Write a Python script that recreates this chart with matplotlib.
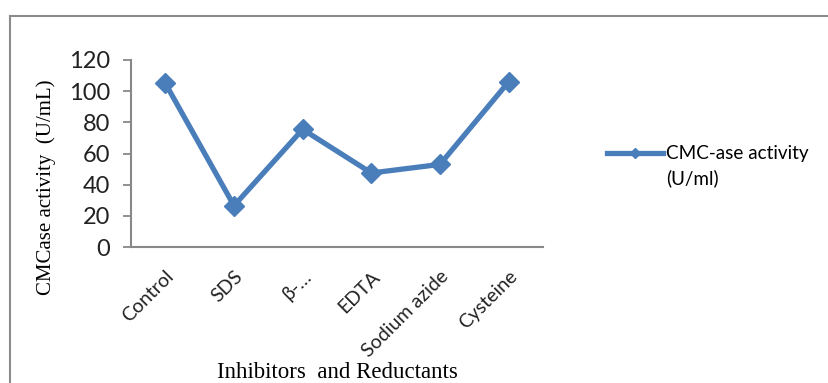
import matplotlib.pyplot as plt
from matplotlib.lines import Line2D
from matplotlib.legend_handler import HandlerLine2D
from matplotlib.transforms import Affine2D

categories = ["Control", "SDS", "β-…", "EDTA", "Sodium azide", "Cysteine"]
activity = [105, 26.5, 75.5, 47.5, 53, 106]
y_ticks = [0, 20, 40, 60, 80, 100, 120]

blue = "#4a7ebb"
sans = ["Lato", "DejaVu Sans"]
serif = ["Liberation Serif", "DejaVu Serif"]


class FirstLineHandler(HandlerLine2D):
    # keep the legend line level with the first line of a two-line label
    def __init__(self, dy, **kw):
        super().__init__(**kw)
        self.dy = dy

    def create_artists(self, legend, orig_handle, xdescent, ydescent, width, height, fontsize, trans):
        shift = Affine2D().translate(0, self.dy)
        return super().create_artists(legend, orig_handle, xdescent, ydescent,
                                      width, height, fontsize, shift + trans)


fig = plt.figure(figsize=(8.29, 3.83), dpi=100)
ax = fig.add_axes([131 / 829, 1 - 247 / 383, 412 / 829, 187 / 383])

x = list(range(len(categories)))
line, = ax.plot(x, activity, color=blue, lw=3.8, marker="D", ms=10.5,
                markerfacecolor=blue, markeredgecolor=blue,
                label="CMC-ase activity\n(U/ml)")

ax.set_xlim(-0.5, len(categories) - 0.5)
ax.set_ylim(0, 120)
ax.set_yticks(y_ticks)
ax.set_yticklabels([str(v) for v in y_ticks], fontsize=17, family=sans, color="#222222")
ax.set_xticks(x)
ax.set_xticklabels(categories, rotation=45, ha="right", rotation_mode="anchor",
                   fontsize=14, family=sans, color="#222222")
ax.tick_params(axis="x", length=0, pad=15)
ax.tick_params(axis="y", length=6, width=1.3, color="#888888", pad=9)

for side in ["top", "right"]:
    ax.spines[side].set_visible(False)
for side in ["left", "bottom"]:
    ax.spines[side].set_color("#888888")
    ax.spines[side].set_linewidth(1.5)

ax.set_ylabel("CMCase activity  (U/mL)", family=serif, fontsize=15)
ax.yaxis.set_label_coords(-0.182, 0.318)
fig.text(337 / 829, 1 - 373 / 383, "Inhibitors  and Reductants", family=serif,
         fontsize=16.5, ha="center", va="center")

leg = fig.legend(handles=[line], loc="center left", bbox_to_anchor=(590 / 829, 1 - 166 / 383),
                 frameon=False, markerscale=0.45, handlelength=2.95, handletextpad=0.2,
                 prop={"family": sans, "size": 13.6},
                 handler_map={line: FirstLineHandler(dy=9.5)})
leg.get_texts()[0].set_linespacing(1.45)

# outer chart border (only top and left edges visible in the crop)
top = 1 - 16 / 383
left = 10 / 829
fig.add_artist(Line2D([left, 1], [top, top], transform=fig.transFigure, color="#8c8c8c", lw=1.5))
fig.add_artist(Line2D([left, left], [0, top], transform=fig.transFigure, color="#8c8c8c", lw=1.5))

fig.savefig("out.png", dpi=100)
